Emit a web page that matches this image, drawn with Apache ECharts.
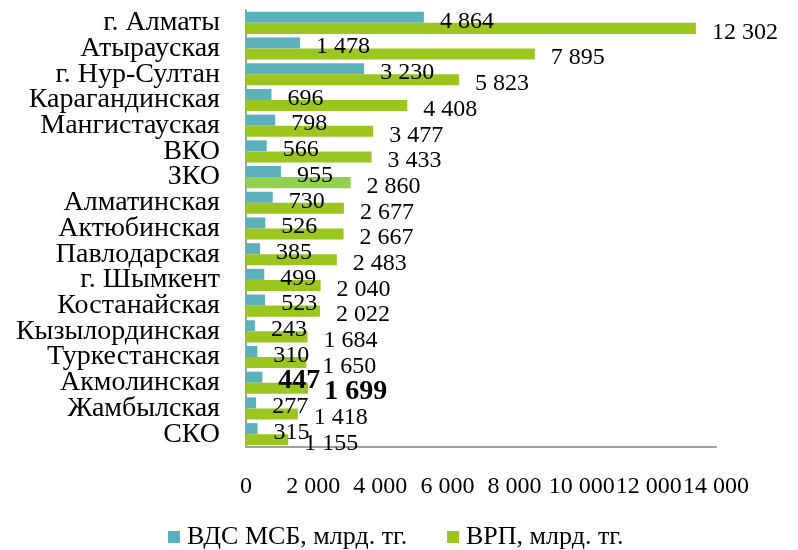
<!DOCTYPE html>
<html><head><meta charset="utf-8">
<script src="https://cdn.jsdelivr.net/npm/echarts@6/dist/echarts.min.js"></script>
<style>html,body{margin:0;padding:0;background:#fff}#c{width:798px;height:550px}</style>
</head><body><div id="c"></div>
<script>
const categories = ["г. Алматы","Атырауская","г. Нур-Султан","Карагандинская","Мангистауская","ВКО","ЗКО","Алматинская","Актюбинская","Павлодарская","г. Шымкент","Костанайская","Кызылординская","Туркестанская","Акмолинская","Жамбылская","СКО"];
const vdsMsb = [4864,1478,3230,696,798,566,955,730,526,385,499,523,243,310,447,277,315];
const vrp = [12302,7895,5823,4408,3477,3433,2860,2677,2667,2483,2040,2022,1684,1650,1699,1418,1155];
const seriesNames = ["ВДС МСБ, млрд. тг.","ВРП, млрд. тг."];
const xTicks = {min:0, max:14000, interval:2000};

const FONT = "Liberation Serif";
const fmt = v => String(v).replace(/\B(?=(\d{3})+(?!\d))/g, " ");
const boldCat = "Акмолинская";
function mk(vals, altColor) {
  return vals.map((v,i) => {
    const o = {value: v};
    if (categories[i] === boldCat) o.label = {fontWeight:'bold', fontSize:28};
    if (altColor && categories[i] === "ЗКО") o.itemStyle = {color: altColor};
    return o;
  });
}
const labelBase = {show:true, position:'right', distance:16, offset:[0,4], color:'#000', fontFamily:FONT, fontSize:24, formatter: p => fmt(p.value)};
const legendText = {fontFamily:FONT, fontSize:26, color:'#000', padding:[0,0,0,2]};
const chart = echarts.init(document.getElementById('c'));
chart.setOption({
  animation:false,
  textStyle:{fontFamily:FONT},
  grid:[
    {left:246, right:40, top:10, bottom:103, containLabel:false},
    {left:246, right:82, top:10, bottom:103, containLabel:false}
  ],
  xAxis:[
    {type:'value', gridIndex:0, min:xTicks.min, max:xTicks.max, interval:xTicks.interval, show:false},
    {type:'value', gridIndex:1, min:xTicks.min, max:xTicks.max, interval:xTicks.interval,
      axisLine:{show:true, lineStyle:{color:'#A0A0A0', width:2}}, axisTick:{show:false}, splitLine:{show:false},
      axisLabel:{color:'#000', fontFamily:FONT, fontSize:24, margin:28, formatter: v => fmt(v)}}
  ],
  yAxis:[
    {type:'category', gridIndex:0, data:categories, inverse:true,
      axisLine:{show:true, lineStyle:{color:'#A0A0A0', width:2}}, axisTick:{show:false},
      axisLabel:{color:'#000', fontFamily:FONT, fontSize:28, margin:26, interval:0}},
    {type:'category', gridIndex:1, data:categories, inverse:true, show:false}
  ],
  legend:[
    {left:163, top:519, itemWidth:12, itemHeight:12, icon:'rect', textStyle:legendText, data:[seriesNames[0]]},
    {left:442, top:519, itemWidth:12, itemHeight:12, icon:'rect', textStyle:legendText, data:[seriesNames[1]]}
  ],
  series:[
    {name:seriesNames[0], type:'bar', xAxisIndex:0, yAxisIndex:0, data:mk(vdsMsb), itemStyle:{color:'#5BB0BB'}, barGap:'0%', barCategoryGap:'14%', label:labelBase},
    {name:seriesNames[1], type:'bar', xAxisIndex:0, yAxisIndex:0, data:mk(vrp,'#92D050'), itemStyle:{color:'#9BC61F'}, barGap:'0%', barCategoryGap:'14%', label:labelBase}
  ]
});
</script></body></html>
